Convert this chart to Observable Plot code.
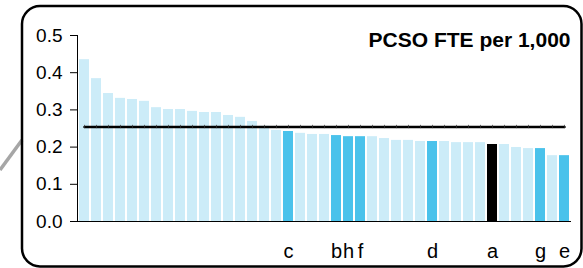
<!DOCTYPE html>
<html><head><meta charset="utf-8">
<script src="https://cdn.jsdelivr.net/npm/d3@7"></script>
<script src="https://cdn.jsdelivr.net/npm/@observablehq/plot@0.6"></script>
<style>body{margin:0;background:#fff}#c{position:relative;width:583px;height:268px}</style>
</head><body><div id="c"></div>
<script>
const values = [0.435,0.384,0.344,0.331,0.328,0.323,0.306,0.301,0.301,0.296,0.293,0.293,0.285,0.280,0.269,0.256,0.245,0.242,0.237,0.234,0.234,0.231,0.228,0.228,0.228,0.223,0.218,0.218,0.215,0.215,0.215,0.212,0.212,0.212,0.207,0.207,0.199,0.196,0.196,0.177,0.177];
const labels = ["","","","","","","","","","","","","","","","","","c","","","","b","h","f","","","","","","d","","","","","a","","","","g","","e"];
const kinds = ["other","other","other","other","other","other","other","other","other","other","other","other","other","other","other","other","other","peer","other","other","other","peer","peer","peer","other","other","other","other","other","peer","other","other","other","other","area","other","other","other","peer","other","peer"];
const average = 0.254;
const yTicks = [0, 0.1, 0.2, 0.3, 0.4, 0.5];
const kindNames = ["other", "peer", "area"];
const kindColors = ["#ccecf8", "#4ac2eb", "#000000"];
const title = "PCSO FTE per 1,000";

const ids = values.map((_, i) => i);
const data = ids.map(i => ({id: i, value: values[i], label: labels[i], kind: kinds[i]}));

const chart = Plot.plot({
  width: 583, height: 268,
  marginLeft: 77, marginRight: 12, marginTop: 35, marginBottom: 47,
  style: {fontFamily: "'Liberation Sans', Arial, sans-serif", background: "transparent", overflow: "visible", color: "#000"},
  x: {type: "band", domain: ids, paddingInner: 0.17, paddingOuter: 0.04},
  y: {domain: [0, 0.5]},
  color: {domain: kindNames, range: kindColors},
  marks: [
    Plot.barY(data, {x: "id", y: "value", fill: "kind"}),
    Plot.line(data, {x: "id", y: () => average, stroke: "#000", strokeWidth: 2.5}),
    Plot.ruleX(data, {x: "id", y1: () => average - 0.0045, y2: () => average + 0.0045, stroke: "#333", strokeWidth: 1, strokeOpacity: 0.7}),
    Plot.frame({anchor: "left", stroke: "#000", strokeWidth: 1}),
    Plot.ruleY([0], {stroke: "#000", strokeWidth: 1}),
    Plot.axisY({ticks: yTicks, tickFormat: d3.format(".1f"), tickSize: 7, tickPadding: 8, fontSize: 19, label: null}),
    Plot.axisX({tickSize: 0, tickPadding: 22, tickFormat: i => labels[i], fontSize: 20, label: null}),
    Plot.text([title], {frameAnchor: "top-right", text: d => d, fontSize: 21, fontWeight: "bold", textAnchor: "end", lineAnchor: "middle", dy: 5, dx: -1})
  ]
});

const svg = d3.select(chart);
svg.insert("line", ":first-child")
  .attr("x1", 0).attr("y1", 170).attr("x2", 22).attr("y2", 140)
  .attr("stroke", "#a6a6a6").attr("stroke-width", 3.5);
svg.append("rect")
  .attr("x", 22).attr("y", 6).attr("width", 559.5).attr("height", 260.5)
  .attr("rx", 18).attr("ry", 18)
  .attr("fill", "none").attr("stroke", "#000").attr("stroke-width", 2.5);

document.getElementById("c").appendChild(chart);
</script>
</body></html>
